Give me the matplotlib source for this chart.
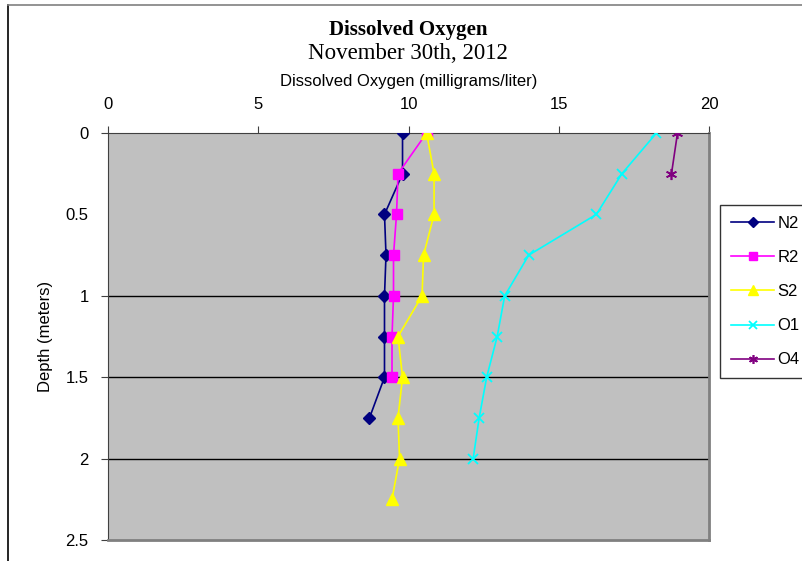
import matplotlib.pyplot as plt
from matplotlib.lines import Line2D

# depth profiles, dissolved oxygen in mg/L
depth_n2 = [0, 0.25, 0.5, 0.75, 1.0, 1.25, 1.5, 1.75]
do_n2 = [9.8, 9.8, 9.2, 9.25, 9.2, 9.2, 9.2, 8.7]

depth_r2 = [0, 0.25, 0.5, 0.75, 1.0, 1.25, 1.5]
do_r2 = [10.6, 9.65, 9.6, 9.5, 9.5, 9.45, 9.45]

depth_s2 = [0, 0.25, 0.5, 0.75, 1.0, 1.25, 1.5, 1.75, 2.0, 2.25]
do_s2 = [10.6, 10.85, 10.85, 10.5, 10.45, 9.65, 9.8, 9.65, 9.7, 9.45]

depth_o1 = [0, 0.25, 0.5, 0.75, 1.0, 1.25, 1.5, 1.75, 2.0]
do_o1 = [18.25, 17.1, 16.25, 14.0, 13.2, 12.95, 12.6, 12.35, 12.15]

depth_o4 = [0, 0.25]
do_o4 = [18.95, 18.75]

x_ticks = [0, 5, 10, 15, 20]
y_ticks = [0, 0.5, 1, 1.5, 2, 2.5]

fig = plt.figure(figsize=(8.02, 5.61), dpi=100)
ax = fig.add_axes([0.1347, 0.0374, 0.7494, 0.7255])
ax.set_facecolor("#C0C0C0")

for y in [1, 1.5, 2]:
    ax.axhline(y, color="black", lw=1.0, zorder=1)

ax.plot(do_n2, depth_n2, color="#000080", marker="D", ms=6.5, lw=1.2, label="N2", zorder=3)
ax.plot(do_r2, depth_r2, color="#FF00FF", marker="s", ms=7.5, lw=1.2, label="R2", zorder=3)
ax.plot(do_s2, depth_s2, color="#FFFF00", marker="^", ms=8.5, lw=1.2, label="S2", zorder=3)
ax.plot(do_o1, depth_o1, color="#00FFFF", marker="x", ms=7, mew=1.3, lw=1.2, label="O1", zorder=3)
ax.plot(do_o4, depth_o4, color="#800080", marker=(6, 2, 0), ms=8, mew=1.2, lw=1.2, label="O4", zorder=3)

ax.set_xlim(0, 20)
ax.set_ylim(2.5, 0)
ax.set_xticks(x_ticks)
ax.set_yticks(y_ticks)
ax.set_yticklabels([str(v) for v in y_ticks])
ax.xaxis.tick_top()
ax.xaxis.set_label_position("top")
ax.tick_params(axis="x", direction="out", length=5, pad=10, labelsize=12, color="#404040")
ax.tick_params(axis="y", direction="out", length=5, pad=9, labelsize=12, color="#404040")
ax.yaxis.get_major_ticks()[1].tick1line.set_visible(False)

for lab in ax.get_xticklabels() + ax.get_yticklabels():
    lab.set_family("Liberation Sans")

ax.spines["top"].set_color("#404040")
ax.spines["left"].set_color("#404040")
ax.spines["right"].set_color("#808080")
ax.spines["bottom"].set_color("#808080")
ax.spines["right"].set_linewidth(2)
ax.spines["bottom"].set_linewidth(2)

ax.set_xlabel("Dissolved Oxygen (milligrams/liter)", family="Liberation Sans",
              fontsize=12, labelpad=8)
ax.set_ylabel("Depth (meters)", family="Liberation Sans", fontsize=12, labelpad=9)

fig.text(0.509, 0.947, "Dissolved Oxygen", family="Liberation Serif",
         fontweight="bold", fontsize=15, ha="center", va="center")
fig.text(0.509, 0.904, "November 30th, 2012", family="Liberation Serif",
         fontsize=16.5, ha="center", va="center")

leg = fig.legend(loc="upper left", bbox_to_anchor=(720 / 802, 1 - 205 / 561),
                 prop={"family": "Liberation Sans", "size": 12},
                 frameon=True, fancybox=False, edgecolor="black",
                 handlelength=2.6, handletextpad=0.2, labelspacing=1.15,
                 borderpad=0.65, borderaxespad=0, markerscale=0.8)
leg.get_frame().set_linewidth(1.0)

# outer chart border (left and top edges)
fig.add_artist(Line2D([8 / 802, 8 / 802], [0, 1 - 5 / 561], color="black", lw=1.2))
fig.add_artist(Line2D([8 / 802, 1], [1 - 5 / 561, 1 - 5 / 561], color="#808080", lw=1.2))

fig.savefig("out.png", dpi=100)
